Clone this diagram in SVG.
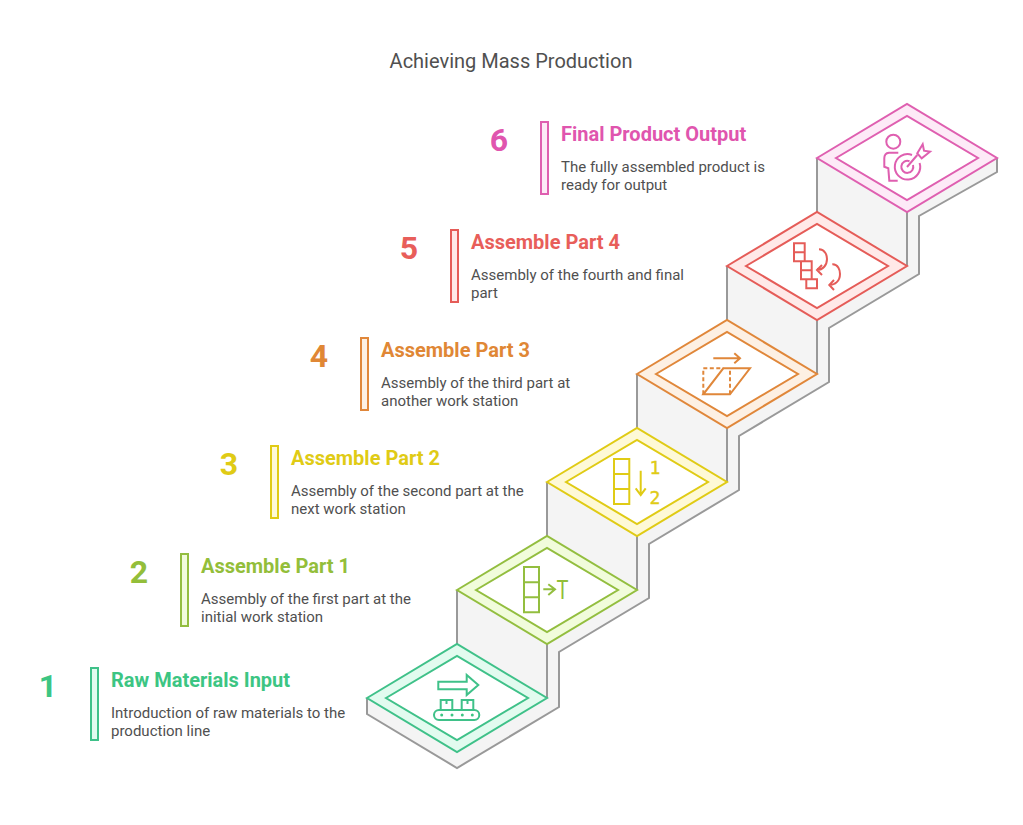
<svg xmlns="http://www.w3.org/2000/svg" width="1023" height="825" viewBox="0 0 1023 825">
<style>
text{font-family:Roboto,"Liberation Sans",sans-serif}
.title{font-size:20px;fill:#505050}
.h{font-size:20px;font-weight:700}
.d{font-size:15px;fill:#505050}
.n{font-size:32px;font-weight:700;text-anchor:middle}
.g{font-family:"DejaVu Sans Mono",monospace;font-size:18px;stroke:#E0CB15;stroke-width:.4px}
.wall{fill:#f4f4f4;stroke:none}
.edge{fill:none;stroke:#999;stroke-width:2}
.i{fill:none;stroke-width:2;stroke-linejoin:miter}
.in{fill:#fff}
.s1{stroke:#3FC189}.s2{stroke:#93BE3F}.s3{stroke:#E0CB15}.s4{stroke:#E0873A}.s5{stroke:#E55C58}.s6{stroke:#DF5FB0}
.t1{fill:#3CC583}.t2{fill:#93BE3A}.t3{fill:#E0CB15}.t4{fill:#E08735}.t5{fill:#E85E5A}.t6{fill:#E055AE}
.l1{fill:#E2FBEF}.l2{fill:#F1FCDB}.l3{fill:#FEF9D6}.l4{fill:#FDF0E3}.l5{fill:#FFE9E8}.l6{fill:#FDEAF7}
</style>
<rect width="1023" height="825" fill="#fff"/>
<text class="title" x="511" y="68" text-anchor="middle">Achieving Mass Production</text>
<g id="connectors">
<path class="wall" d="M367 698V714L457 768L559 707V652L649 598V544L739 490V436L829 382V328L919 274V216L997 172V158L907 104L817 158V212L727 266V320L637 374V428L547 482V536L457 590V644Z"/>
<path class="edge" d="M367 698V714L457 768L559 707V652L649 598V544L739 490V436L829 382V328L919 274V216L997 172V158"/>
<path class="edge" d="M457 644V590M547 698V644M547 536V482M637 590V536M637 428V374M727 482V428M727 320V266M817 374V320M817 212V158M907 266V212"/>
</g>
<g id="node1">
<path class="i s1 l1" d="M367 698L457 644L547 698L457 752Z"/>
<path class="i s1 in" d="M386 698L457 656L528 698L457 740Z"/>
<path class="i s1" d="M438.3 681.7H466.7V675L478.3 685L466.7 695V689.3H438.3ZM440.7 710V700H452.3V710M461.7 710V700H473.3V710M446.5 700V704M467.5 700V704"/>
<rect class="i s1" x="434" y="710" width="45.300000000000004" height="10" rx="5"/>
<circle class="t1" cx="441.7" cy="715" r="1.5"/><circle class="t1" cx="452" cy="715" r="1.5"/><circle class="t1" cx="462.3" cy="715" r="1.5"/><circle class="t1" cx="472.3" cy="715" r="1.5"/>
<text class="n t1" x="48" y="697">1</text>
<rect class="i s1 l1" x="91" y="668" width="7" height="72"/>
<text class="h t1" x="111" y="687">Raw Materials Input</text>
<text class="d" x="111" y="718">Introduction of raw materials to the</text>
<text class="d" x="111" y="736">production line</text>
</g>
<g id="node2">
<path class="i s2 l2" d="M457 590L547 536L637 590L547 644Z"/>
<path class="i s2 in" d="M476 590L547 548L618 590L547 632Z"/>
<path class="i s2" d="M524 567H539V612.3H524ZM524 582.3H539M524 597.3H539M543.3 589.3H555M548.3 584.3L555 589.3L548.3 595"/>
<text x="556.5" y="598.5" font-size="25" textLength="12" lengthAdjust="spacingAndGlyphs" class="t2">T</text>
<text class="n t2" x="139" y="583">2</text>
<rect class="i s2 l2" x="181" y="554" width="7" height="72"/>
<text class="h t2" x="201" y="573">Assemble Part 1</text>
<text class="d" x="201" y="604">Assembly of the first part at the</text>
<text class="d" x="201" y="622">initial work station</text>
</g>
<g id="node3">
<path class="i s3 l3" d="M547 482L637 428L727 482L637 536Z"/>
<path class="i s3 in" d="M566 482L637 440L708 482L637 524Z"/>
<path class="i s3" d="M614 459H629.3V504H614ZM614 474H629.3M614 489H629.3M640.7 470.7V495M635.7 488.3L640.7 495L645.7 488.3"/>
<text x="649.5" y="473.5" class="g t3">1</text>
<text x="649.5" y="504" class="g t3">2</text>
<text class="n t3" x="229" y="475">3</text>
<rect class="i s3 l3" x="271" y="446" width="7" height="72"/>
<text class="h t3" x="291" y="465">Assemble Part 2</text>
<text class="d" x="291" y="496">Assembly of the second part at the</text>
<text class="d" x="291" y="514">next work station</text>
</g>
<g id="node4">
<path class="i s4 l4" d="M637 374L727 320L817 374L727 428Z"/>
<path class="i s4 in" d="M656 374L727 332L798 374L727 416Z"/>
<path class="i s4" d="M713.3 358.3H740M734.3 353.3L740 358.3L734.3 363.3M703.3 394.3H730L750 368.3H723.3Z"/>
<path class="i s4" stroke-dasharray="4 2.5" d="M703.3 394.3V368.3H723.3M730 394.3V368.3"/>
<text class="n t4" x="319" y="367">4</text>
<rect class="i s4 l4" x="361" y="338" width="7" height="72"/>
<text class="h t4" x="381" y="357">Assemble Part 3</text>
<text class="d" x="381" y="388">Assembly of the third part at</text>
<text class="d" x="381" y="406">another work station</text>
</g>
<g id="node5">
<path class="i s5 l5" d="M727 266L817 212L907 266L817 320Z"/>
<path class="i s5 in" d="M746 266L817 224L888 266L817 308Z"/>
<path class="i s5" d="M794 243.3H804.7V261.3H794ZM794 252.3H804.7M801 261.3H811.7V279.3H801ZM801 270.3H811.7M806.3 279.3H817V288.3H806.3ZM819 249.3C825 249.5 827 255 827 259C827 265 823 270 817 270M822 265L817 270L822 275M832.3 264.3C838 264 840 270 840 274C840 281 835 285 829.3 285M834 280L829.3 285L834 290"/>
<text class="n t5" x="409" y="259">5</text>
<rect class="i s5 l5" x="451" y="230" width="7" height="72"/>
<text class="h t5" x="471" y="249">Assemble Part 4</text>
<text class="d" x="471" y="280">Assembly of the fourth and final</text>
<text class="d" x="471" y="298">part</text>
</g>
<g id="node6">
<path class="i s6 l6" d="M817 158L907 104L997 158L907 212Z"/>
<path class="i s6 in" d="M836 158L907 116L978 158L907 200Z"/>
<circle class="i s6" cx="893.3" cy="141.7" r="7"/>
<path class="i s6" d="M898.3 152.7H889C886 153 884.3 155.5 884.3 158.3V166.7L888.3 168.3L889.3 180.7H897.7"/>
<path class="i s6" d="M912 155A12.7 12.7 0 1 0 919.6 163M909.5 161.3A6 6 0 1 0 913 165M907 167L917.3 155"/>
<path class="i s6" d="M917.3 153.3L922.7 144.3L924 150.7L930 151.7L921.7 158.3Z"/>
<text class="n t6" x="499" y="151">6</text>
<rect class="i s6 l6" x="541" y="122" width="7" height="72"/>
<text class="h t6" x="561" y="141">Final Product Output</text>
<text class="d" x="561" y="172">The fully assembled product is</text>
<text class="d" x="561" y="190">ready for output</text>
</g>
</svg>
